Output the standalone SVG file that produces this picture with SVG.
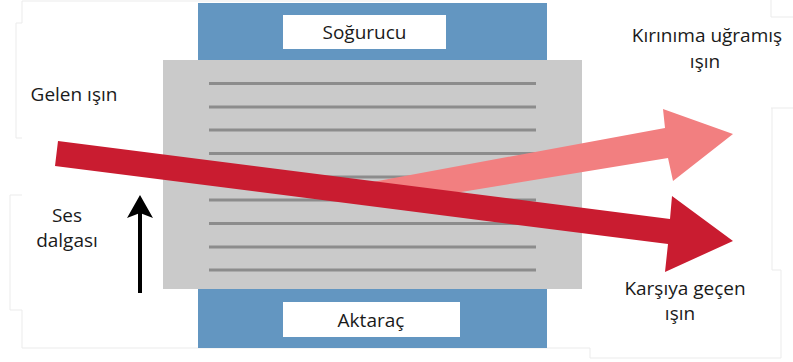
<svg xmlns="http://www.w3.org/2000/svg" width="793" height="362" viewBox="0 0 793 362">
  <style>
    .frame { fill: none; stroke: #ebebeb; stroke-width: 1; }
    .absorber { fill: #6396c1; }
    .crystal { fill: #cacaca; }
    .plane { stroke: #8c8c8c; stroke-width: 3; }
    .labelbox { fill: #ffffff; }
    .lbl { font-family: "Open Sans", "Noto Sans", sans-serif; font-size: 19px; fill: #1a1a1a; text-anchor: middle; }
    .wave { stroke: #000; stroke-width: 4; fill: none; }
  </style>

  <rect width="793" height="362" fill="#ffffff"/>

  <!-- faint text-box frames -->
  <g id="frames">
    <path class="frame" d="M22,23 V1 H400"/>
    <path class="frame" d="M22,23 H16 V138 H22"/>
    <path class="frame" d="M22,195 H10 V310 H22 V348 H590"/>
    <path class="frame" d="M771,0 V17 H793"/>
    <path class="frame" d="M771,108 H793"/>
    <path class="frame" d="M772,108 V270 H781 V358 H590 V348"/>
  </g>

  <!-- absorber (top) -->
  <g id="absorber">
    <rect class="absorber" x="198" y="3" width="349" height="57"/>
    <rect class="labelbox" x="283" y="15" width="163" height="34"/>
    <text class="lbl" x="364.5" y="39">Soğurucu</text>
  </g>

  <!-- transducer (bottom) -->
  <g id="transducer">
    <rect class="absorber" x="198" y="289" width="349" height="59"/>
    <rect class="labelbox" x="283" y="302" width="177" height="35"/>
    <text class="lbl" x="371" y="327">Aktaraç</text>
  </g>

  <!-- crystal with lattice planes -->
  <g id="crystal">
    <rect class="crystal" x="163" y="60" width="419" height="229"/>
    <g class="plane">
      <line x1="209" y1="83.5" x2="536" y2="83.5"/>
      <line x1="209" y1="107" x2="536" y2="107"/>
      <line x1="209" y1="130" x2="536" y2="130"/>
      <line x1="209" y1="153.5" x2="536" y2="153.5"/>
      <line x1="209" y1="177" x2="536" y2="177"/>
      <line x1="209" y1="200" x2="536" y2="200"/>
      <line x1="209" y1="223.5" x2="536" y2="223.5"/>
      <line x1="209" y1="247" x2="536" y2="247"/>
      <line x1="209" y1="270" x2="536" y2="270"/>
    </g>
  </g>

  <g id="connectors">
    <!-- diffracted beam -->
    <polygon id="diffracted" fill="#f27f80" points="340,188 665,128 663,109 733,134 673,181 668,158 400,202"/>
    <!-- incident / transmitted beam -->
    <polygon id="transmitted" fill="#c91c30" points="58,141 670,219 672,196 733,241 665,272 668,244 55,166"/>
    <!-- sound wave direction -->
    <line class="wave" x1="140" y1="293" x2="140" y2="212"/>
    <path d="M140,195 L153,218 L140,213 L127,218 Z" fill="#000"/>
  </g>

  <g id="lbl-incident">
    <text class="lbl" x="74" y="101">Gelen ışın</text>
  </g>
  <g id="lbl-sound">
    <text class="lbl" x="67" y="222">Ses</text>
    <text class="lbl" x="67" y="247">dalgası</text>
  </g>
  <g id="lbl-diffracted">
    <text class="lbl" x="707" y="42">Kırınıma uğramış</text>
    <text class="lbl" x="705" y="68">ışın</text>
  </g>
  <g id="lbl-transmitted">
    <text class="lbl" x="685" y="295">Karşıya geçen</text>
    <text class="lbl" x="680" y="320">ışın</text>
  </g>
</svg>
